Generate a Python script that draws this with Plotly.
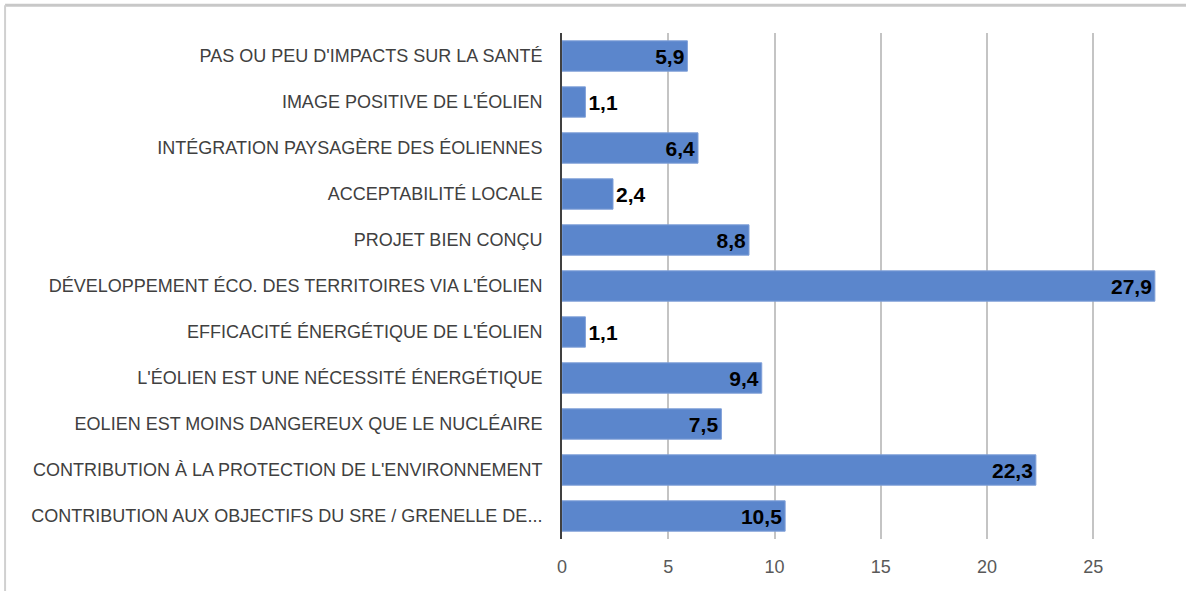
import plotly.graph_objects as go

categories = [
    "CONTRIBUTION AUX OBJECTIFS DU SRE / GRENELLE DE...",
    "CONTRIBUTION À LA PROTECTION DE L'ENVIRONNEMENT",
    "EOLIEN EST MOINS DANGEREUX QUE LE NUCLÉAIRE",
    "L'ÉOLIEN EST UNE NÉCESSITÉ ÉNERGÉTIQUE",
    "EFFICACITÉ ÉNERGÉTIQUE DE L'ÉOLIEN",
    "DÉVELOPPEMENT ÉCO. DES TERRITOIRES VIA L'ÉOLIEN",
    "PROJET BIEN CONÇU",
    "ACCEPTABILITÉ LOCALE",
    "INTÉGRATION PAYSAGÈRE DES ÉOLIENNES",
    "IMAGE POSITIVE DE L'ÉOLIEN",
    "PAS OU PEU D'IMPACTS SUR LA SANTÉ",
]
values = [10.5, 22.3, 7.5, 9.4, 1.1, 27.9, 8.8, 2.4, 6.4, 1.1, 5.9]
labels = [f"{v:.1f}".replace(".", ",") for v in values]
x_ticks = [0, 5, 10, 15, 20, 25]

FONT = "Liberation Sans, Arial, sans-serif"

# small bars get their label just past the bar end
positions = ["outside" if v < 3 else "inside" for v in values]

fig = go.Figure(go.Bar(
    x=values,
    y=categories,
    orientation="h",
    width=0.66,
    marker=dict(color="#5b86cc", line=dict(color="#7f9fd8", width=1)),
    text=labels,
    textposition=positions,
    insidetextanchor="end",
    constraintext="none",
    cliponaxis=False,
    textfont=dict(family=FONT, size=21, color="#000000", weight="bold"),
))

fig.update_layout(
    width=1186,
    height=591,
    margin=dict(l=562, r=29, t=33, b=52),
    paper_bgcolor="white",
    plot_bgcolor="white",
    showlegend=False,
    xaxis=dict(
        range=[0, 28],
        tickvals=x_ticks,
        showgrid=True,
        gridcolor="#c4c4c4",
        gridwidth=2,
        zeroline=False,
        showline=False,
        ticks="",
        tickfont=dict(family=FONT, size=18, color="#595959"),
        ticklabelstandoff=15,
    ),
    yaxis=dict(
        categoryorder="array",
        categoryarray=categories,
        showgrid=False,
        showline=True,
        linecolor="#404040",
        linewidth=2,
        ticks="",
        tickfont=dict(family=FONT, size=18, color="#404040"),
        ticklabelstandoff=14,
    ),
    shapes=[
        # grey frame around the picture (top and left edges)
        dict(type="line", xref="paper", yref="paper", x0=-0.936, x1=1.1,
             y0=1.055, y1=1.055, line=dict(color="#c8c8c8", width=3)),
        dict(type="line", xref="paper", yref="paper", x0=-0.936, x1=-0.936,
             y0=1.055, y1=-0.2, line=dict(color="#d0d0d0", width=2)),
    ],
)

fig.write_html("out.html", config={"displayModeBar": False},
               post_script="document.body.style.margin='0';")
